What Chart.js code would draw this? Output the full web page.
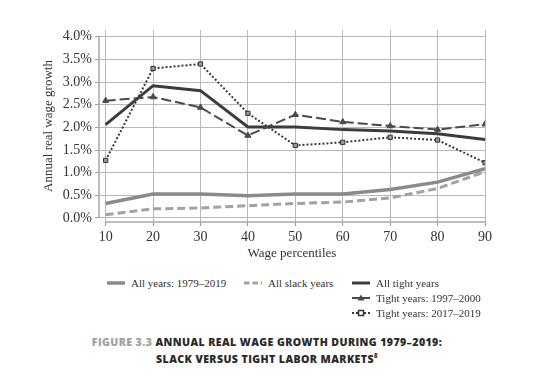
<!DOCTYPE html>
<html>
<head>
<meta charset="utf-8">
<script src="https://cdn.jsdelivr.net/npm/chart.js@4.4.0/dist/chart.umd.min.js"></script>
<style>
body { margin: 0; background: #fff; }
#wrap { position: relative; width: 543px; height: 390px; overflow: hidden; }
#grafica { position: absolute; left: 0; top: 0; }
.ley { position: absolute; height: 16px; display: flex; align-items: center; white-space: nowrap;
  font-family: "Liberation Serif", serif; font-size: 11px; color: #333; }
.ley canvas { margin-right: 6px; }
.cap { position: absolute; left: 0; width: 534px; text-align: center; font-family: "Open Sans", sans-serif;
  font-weight: 800; font-size: 10.6px; color: #2a2a2a; letter-spacing: 0.4px; }
.cap span { color: #a0a0a0; }
</style>
</head>
<body>
<div id="wrap">
  <canvas id="grafica" width="543" height="265"></canvas>
  <div id="leyenda"></div>
  <div class="cap" style="top:335px"><span>FIGURE 3.3</span> ANNUAL REAL WAGE GROWTH DURING 1979–2019:</div>
  <div class="cap" style="top:352px">SLACK VERSUS TIGHT LABOR MARKETS<sup style="font-size:6px">8</sup></div>
</div>
<script>
const percentiles = [10, 20, 30, 40, 50, 60, 70, 80, 90];
const allYears   = [0.32, 0.53, 0.53, 0.49, 0.53, 0.53, 0.63, 0.79, 1.09];
const slackYears = [0.07, 0.20, 0.22, 0.27, 0.32, 0.35, 0.44, 0.65, 1.02];
const tightYears = [2.06, 2.92, 2.81, 2.01, 2.01, 1.95, 1.92, 1.86, 1.73];
const tight9700  = [2.59, 2.67, 2.44, 1.82, 2.28, 2.12, 2.03, 1.95, 2.07];
const tight1719  = [1.27, 3.30, 3.40, 2.31, 1.60, 1.67, 1.78, 1.72, 1.22];
const yTicks = [0, 0.5, 1.0, 1.5, 2.0, 2.5, 3.0, 3.5, 4.0];

function puntos(vals) {
  return vals.map((v, i) => ({ x: percentiles[i], y: v }));
}

const series = [
  { label: "All years: 1979–2019", data: puntos(allYears), borderColor: "#8a8a8a", borderWidth: 3.5,
    borderDash: [], pointRadius: 0, leyX: 107, leyY: 283 },
  { label: "All slack years", data: puntos(slackYears), borderColor: "#a2a2a2", borderWidth: 3,
    borderDash: [8, 4], pointRadius: 0, leyX: 244, leyY: 283 },
  { label: "All tight years", data: puntos(tightYears), borderColor: "#3c3c3c", borderWidth: 3,
    borderDash: [], pointRadius: 0, leyX: 352, leyY: 283 },
  { label: "Tight years: 1997–2000", data: puntos(tight9700), borderColor: "#4a4a4a", borderWidth: 2,
    borderDash: [10, 4], pointStyle: "triangle", pointRadius: 3.5, pointBackgroundColor: "#4a4a4a",
    pointBorderColor: "#4a4a4a", leyX: 352, leyY: 298 },
  { label: "Tight years: 2017–2019", data: puntos(tight1719), borderColor: "#383838", borderWidth: 2,
    borderDash: [2, 2], pointStyle: "rect", pointRadius: 3, pointBackgroundColor: "#9a9a9a",
    pointBorderColor: "#333", pointBorderWidth: 1, leyX: 352, leyY: 313 }
];

const ejes = {
  id: "ejes",
  beforeDatasetsDraw(chart) {
    const { ctx, chartArea, scales: { x, y } } = chart;
    ctx.save();
    ctx.strokeStyle = "#a8a8a8";
    ctx.lineWidth = 1.5;
    ctx.beginPath();
    ctx.moveTo(chartArea.left, y.getPixelForValue(yTicks[yTicks.length - 1]));
    ctx.lineTo(chartArea.left, y.getPixelForValue(yTicks[0]));
    ctx.moveTo(x.getPixelForValue(percentiles[0]), chartArea.bottom);
    ctx.lineTo(x.getPixelForValue(percentiles[percentiles.length - 1]), chartArea.bottom);
    ctx.stroke();
    ctx.restore();
  }
};

const serif = "'Liberation Serif', 'Times New Roman', serif";

new Chart(document.getElementById("grafica"), {
  type: "line",
  data: {
    datasets: series.map(s => ({
      label: s.label, data: s.data, borderColor: s.borderColor, borderWidth: s.borderWidth,
      borderDash: s.borderDash, pointStyle: s.pointStyle, pointRadius: s.pointRadius,
      pointBackgroundColor: s.pointBackgroundColor, pointBorderColor: s.pointBorderColor,
      pointBorderWidth: s.pointBorderWidth || 1, tension: 0, fill: false
    })).reverse()
  },
  options: {
    responsive: false,
    animation: false,
    layout: { padding: { top: 30, right: 58, left: 0, bottom: 0 } },
    plugins: { legend: { display: false }, tooltip: { enabled: false } },
    scales: {
      x: {
        type: "linear", min: 8.6, max: 90,
        afterBuildTicks: s => { s.ticks = percentiles.map(v => ({ value: v })); },
        afterFit: s => { s.height = 43; },
        border: { display: false },
        grid: { color: "#b8b8b8", borderDash: [1, 2], lineWidth: 1, drawTicks: true, tickLength: 4,
                tickColor: "#999", tickBorderDash: [], tickWidth: 1 },
        ticks: { color: "#333", font: { family: serif, size: 14 }, padding: 3, maxRotation: 0 },
        title: { display: true, text: "Wage percentiles", color: "#333",
                 font: { family: serif, size: 13 }, padding: { top: 0, bottom: 4 } }
      },
      y: {
        min: -0.09, max: 4.15,
        afterBuildTicks: s => { s.ticks = yTicks.map(v => ({ value: v })); },
        afterFit: s => { s.width = 99; },
        border: { display: false },
        grid: { color: "#b8b8b8", borderDash: [1, 2], lineWidth: 1, drawTicks: true, tickLength: 4,
                tickColor: "#999", tickBorderDash: [], tickWidth: 1 },
        ticks: { color: "#333", font: { family: serif, size: 14 }, padding: 3,
                 callback: v => v.toFixed(1) + "%" },
        title: { display: true, text: "Annual real wage growth", color: "#333",
                 font: { family: serif, size: 13 }, padding: { top: 41, bottom: 0 } }
      }
    }
  },
  plugins: [ejes]
});

// leyenda a mano
const leyenda = document.getElementById("leyenda");
series.forEach(s => {
  const item = document.createElement("div");
  item.className = "ley";
  item.style.left = s.leyX + "px";
  item.style.top = (s.leyY - 8) + "px";
  const c = document.createElement("canvas");
  c.width = 18; c.height = 10;
  const g = c.getContext("2d");
  g.strokeStyle = s.borderColor;
  g.lineWidth = s.borderWidth;
  g.setLineDash(s.pointRadius ? (s.borderDash.length && s.borderDash[0] < 4 ? [2, 2] : []) : s.borderDash.map(d => d * 0.7));
  g.beginPath(); g.moveTo(0, 5); g.lineTo(18, 5); g.stroke();
  g.setLineDash([]);
  if (s.pointStyle === "triangle") {
    g.fillStyle = s.pointBackgroundColor;
    g.beginPath(); g.moveTo(9, 1.5); g.lineTo(12.5, 7.5); g.lineTo(5.5, 7.5); g.closePath(); g.fill();
  } else if (s.pointStyle === "rect") {
    g.fillStyle = "#fff";
    g.strokeStyle = s.pointBorderColor; g.lineWidth = 1.5;
    g.fillRect(6.5, 2.5, 5, 5); g.strokeRect(6.5, 2.5, 5, 5);
  }
  item.appendChild(c);
  const t = document.createElement("span");
  t.textContent = s.label;
  item.appendChild(t);
  leyenda.appendChild(item);
});
</script>
</body>
</html>
